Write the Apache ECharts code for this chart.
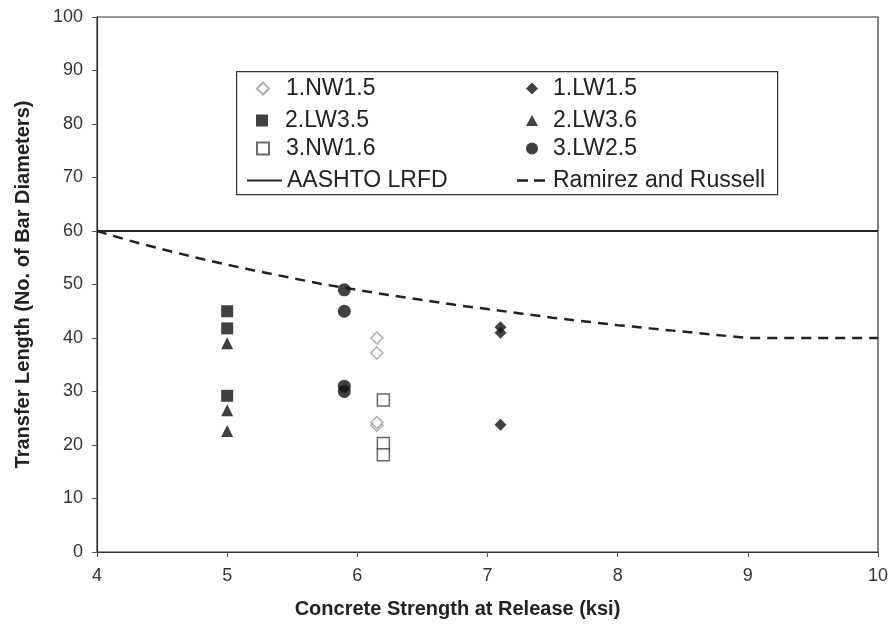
<!DOCTYPE html>
<html>
<head>
<meta charset="utf-8">
<script src="https://cdn.jsdelivr.net/npm/echarts@6/dist/echarts.min.js"></script>
<style>
html,body{margin:0;padding:0;background:#fff;}
#chart{width:891px;height:637px;}
</style>
</head>
<body>
<div id="chart"></div>
<script>
// Measured transfer lengths, [f'ci (ksi), length in bar diameters]
const nw15 = [[6.15, 40], [6.15, 37.2], [6.15, 23.7], [6.15, 24.2]];
const lw15 = [[7.1, 41], [7.1, 42], [7.1, 23.8]];
const lw35 = [[5, 45], [5, 41.8], [5, 29.2]];
const lw36 = [[5, 39], [5, 26.5], [5, 22.6]];
const nw16 = [[6.2, 28.4], [6.2, 20.3], [6.2, 18.2]];
const lw25 = [[5.9, 49], [5.9, 45], [5.9, 31], [5.9, 30]];

// Design limits
const aashto = [[4, 60], [10, 60]];
const ramirez = [[4, 60], [4.25, 58.2], [4.5, 56.6], [4.75, 55.1], [5, 53.7], [5.25, 52.4],
                 [5.5, 51.2], [5.75, 50.0], [6, 49.0], [6.25, 48.0], [6.5, 47.1], [6.75, 46.2],
                 [7, 45.4], [7.25, 44.6], [7.5, 43.8], [7.75, 43.1], [8, 42.4], [8.25, 41.8],
                 [8.5, 41.2], [8.75, 40.6], [9, 40], [10, 40]];

const xTicks = [4, 5, 6, 7, 8, 9, 10];
const yTicks = [0, 10, 20, 30, 40, 50, 60, 70, 80, 90, 100];

const font = 'Liberation Sans, Arial, sans-serif';
const chart = echarts.init(document.getElementById('chart'));

// one legend block per entry so each row sits at its own height
function legendItem(name, left, top, icon, w, h, pad) {
  return {
    left: left, top: top, padding: 0, itemWidth: w, itemHeight: h, selectedMode: false,
    textStyle: { fontFamily: font, fontSize: 23, lineHeight: 22, color: '#222', padding: [0, 0, 0, pad] },
    data: [{ name: name, icon: icon }]
  };
}
const rows = [77, 109, 137, 169];
const solidIcon = 'path://M0,0h35v2h-35z';
const dashIcon = 'path://M0,0h11v2.5h-11z M17,0h11v2.5h-11z';

chart.setOption({
  backgroundColor: '#fff',
  animation: false,
  grid: { left: 97, right: 11, top: 17, bottom: 85, show: true, borderColor: '#333', borderWidth: 1.2 },
  xAxis: {
    type: 'value', min: xTicks[0], max: xTicks[xTicks.length - 1], interval: 1,
    name: 'Concrete Strength at Release (ksi)', nameLocation: 'middle', nameGap: 47,
    nameTextStyle: { fontFamily: font, fontSize: 20, fontWeight: 'bold', color: '#222', padding: [0, 60, 0, 0] },
    axisLine: { lineStyle: { color: '#333', width: 1.2 } },
    axisTick: { show: true, length: 5, lineStyle: { color: '#555' } },
    axisLabel: { fontFamily: font, fontSize: 18, color: '#333', margin: 15 },
    splitLine: { show: false }
  },
  yAxis: {
    type: 'value', min: yTicks[0], max: yTicks[yTicks.length - 1], interval: 10,
    name: 'Transfer Length (No. of Bar Diameters)', nameLocation: 'middle', nameGap: 64,
    nameTextStyle: { fontFamily: font, fontSize: 20, fontWeight: 'bold', color: '#222' },
    axisLine: { lineStyle: { color: '#333', width: 1.2 } },
    axisTick: { show: true, length: 5, lineStyle: { color: '#555' } },
    axisLabel: { fontFamily: font, fontSize: 18, color: '#333', margin: 14 },
    splitLine: { show: false }
  },
  graphic: [{
    type: 'rect', left: 236, top: 71, z: 0,
    shape: { width: 541, height: 123 },
    style: { fill: '#fff', stroke: '#333', lineWidth: 1.2 }
  }],
  legend: [
    legendItem('1.NW1.5', 256, rows[0], 'diamond', 12, 12, 12),
    legendItem('2.LW3.5', 256, rows[1], 'rect', 12, 12, 12),
    legendItem('3.NW1.6', 256, rows[2], 'rect', 12, 12, 12),
    legendItem('AASHTO LRFD', 247, rows[3], solidIcon, 35, 2, 0),
    legendItem('1.LW1.5', 526, rows[0], 'diamond', 12, 12, 10),
    legendItem('2.LW3.6', 526, rows[1], 'triangle', 12, 11, 10),
    legendItem('3.LW2.5', 526, rows[2], 'circle', 12, 12, 10),
    legendItem('Ramirez and Russell', 517, rows[3], dashIcon, 28, 2.5, 3)
  ],
  series: [
    { name: 'AASHTO LRFD', type: 'line', data: aashto, symbol: 'none',
      lineStyle: { color: '#222', width: 2 }, itemStyle: { color: '#222' }, z: 2 },
    { name: 'Ramirez and Russell', type: 'line', data: ramirez, symbol: 'none',
      lineStyle: { color: '#222', width: 2.5, type: [10, 7] }, itemStyle: { color: '#222' }, z: 2 },
    { name: '1.NW1.5', type: 'scatter', data: nw15, symbol: 'diamond', symbolSize: 12,
      itemStyle: { color: '#fff', borderColor: '#999', borderWidth: 1.5 }, z: 3 },
    { name: '1.LW1.5', type: 'scatter', data: lw15, symbol: 'diamond', symbolSize: 12,
      itemStyle: { color: '#111' }, z: 3 },
    { name: '2.LW3.5', type: 'scatter', data: lw35, symbol: 'rect', symbolSize: 12,
      itemStyle: { color: '#111' }, z: 3 },
    { name: '2.LW3.6', type: 'scatter', data: lw36, symbol: 'triangle', symbolSize: 12,
      itemStyle: { color: '#111' }, z: 3 },
    { name: '3.NW1.6', type: 'scatter', data: nw16, symbol: 'rect', symbolSize: 12,
      itemStyle: { color: '#fff', borderColor: '#444', borderWidth: 1.5 }, z: 3 },
    { name: '3.LW2.5', type: 'scatter', data: lw25, symbol: 'circle', symbolSize: 13,
      itemStyle: { color: '#111' }, z: 3 }
  ]
});
</script>
</body>
</html>
